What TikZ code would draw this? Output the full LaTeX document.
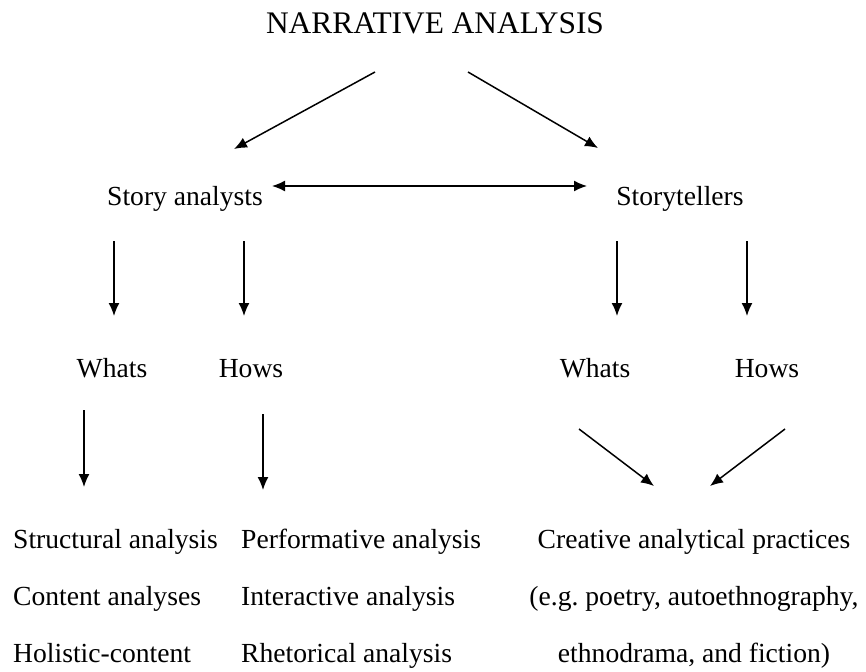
\documentclass[tikz,border=0pt]{standalone}
\usepackage{fontspec}
\setmainfont{Liberation Serif}
\usetikzlibrary{arrows.meta}
\begin{document}
\frenchspacing
\begin{tikzpicture}[x=1pt,y=-1pt,
  lbl/.style={inner sep=0pt,font=\fontsize{27.6}{30}\selectfont},
  ttl/.style={inner sep=0pt,font=\fontsize{31.4}{34}\selectfont},
  arr/.style={line width=1.5pt,-{Latex[length=13pt,width=11pt]}},
  darr/.style={line width=1.5pt,{Latex[length=13pt,width=11pt]}-{Latex[length=13pt,width=11pt]}}]
\useasboundingbox (0,0) rectangle (866,671);
% texts
\node[ttl,anchor=base] (title) at (435,34) {NARRATIVE ANALYSIS};
\node[lbl,anchor=base] (sa) at (185,205) {Story analysts};
\node[lbl,anchor=base] (st) at (680,205) {Storytellers};
\node[lbl,anchor=base] (w1) at (112,377) {Whats};
\node[lbl,anchor=base] (h1) at (251,377) {Hows};
\node[lbl,anchor=base] (w2) at (595,377) {Whats};
\node[lbl,anchor=base] (h2) at (767,377) {Hows};
\node[lbl,anchor=base west] (c11) at (13,548) {Structural analysis};
\node[lbl,anchor=base west] (c12) at (13,605) {Content analyses};
\node[lbl,anchor=base west] (c13) at (13,662) {Holistic-content};
\node[lbl,anchor=base west] (c21) at (241,548) {Performative analysis};
\node[lbl,anchor=base west] (c22) at (241,605) {Interactive analysis};
\node[lbl,anchor=base west] (c23) at (241,662) {Rhetorical analysis};
\node[lbl,anchor=base] (c31) at (694,548) {Creative analytical practices};
\node[lbl,anchor=base] (c32) at (694,605) {(e.g. poetry, autoethnography,};
\node[lbl,anchor=base] (c33) at (694,662) {ethnodrama, and fiction)};
% arrow end points
\coordinate (t1) at (375,72);  \coordinate (t1e) at (234,149);
\coordinate (t2) at (468,72);  \coordinate (t2e) at (598,148);
\coordinate (dl) at (272,186); \coordinate (dr) at (587,186);
\coordinate (a1) at (114,241); \coordinate (a1e) at (114,316);
\coordinate (a2) at (244,241); \coordinate (a2e) at (244,316);
\coordinate (a3) at (617,241); \coordinate (a3e) at (617,316);
\coordinate (a4) at (747,241); \coordinate (a4e) at (747,316);
\coordinate (b1) at (84,410);  \coordinate (b1e) at (84,487);
\coordinate (b2) at (263,414); \coordinate (b2e) at (263,490);
\coordinate (b3) at (579,429); \coordinate (b3e) at (654,486);
\coordinate (b4) at (785,429); \coordinate (b4e) at (710,486);
% arrows
\draw[arr] (t1) -- (t1e);
\draw[arr] (t2) -- (t2e);
\draw[darr] (dl) -- (dr);
\draw[arr] (a1) -- (a1e);
\draw[arr] (a2) -- (a2e);
\draw[arr] (a3) -- (a3e);
\draw[arr] (a4) -- (a4e);
\draw[arr] (b1) -- (b1e);
\draw[arr] (b2) -- (b2e);
\draw[arr] (b3) -- (b3e);
\draw[arr] (b4) -- (b4e);
\end{tikzpicture}
\end{document}
